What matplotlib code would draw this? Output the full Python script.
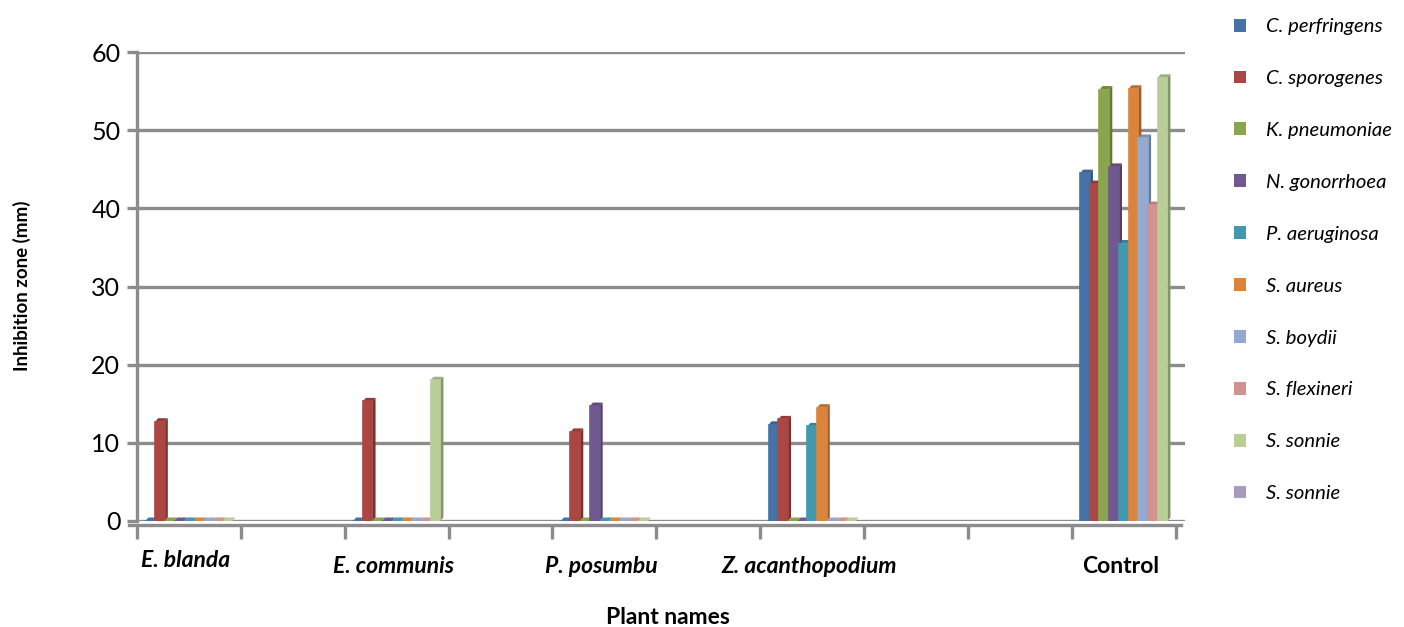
import numpy as np
import matplotlib
matplotlib.use("Agg")
import matplotlib.pyplot as plt
from matplotlib.patches import Polygon, Patch
from matplotlib.colors import to_rgb

nan = np.nan
# 10 category slots on the x axis (empty strings are blank slots)
categories = ["E. blanda", "", "E. communis", "", "P. posumbu", "",
              "Z. acanthopodium", "", "", "Control"]
series_names = ["C. perfringens", "C. sporogenes", "K. pneumoniae", "N. gonorrhoea",
                "P. aeruginosa", "S. aureus", "S. boydii", "S. flexineri",
                "S. sonnie", "S. sonnie"]
c_perfringens = [0, nan, 0, nan, 0, nan, 12.3, nan, nan, 44.5]
c_sporogenes = [12.7, nan, 15.3, nan, 11.4, nan, 13.0, nan, nan, 43.1]
k_pneumoniae = [0, nan, 0, nan, 0, nan, 0, nan, nan, 55.2]
n_gonorrhoea = [0, nan, 0, nan, 14.7, nan, 0, nan, nan, 45.3]
p_aeruginosa = [0, nan, 0, nan, 0, nan, 12.1, nan, nan, 35.5]
s_aureus = [0, nan, 0, nan, 0, nan, 14.5, nan, nan, 55.3]
s_boydii = [0, nan, 0, nan, 0, nan, 0, nan, nan, 49.0]
s_flexineri = [0, nan, 0, nan, 0, nan, 0, nan, nan, 40.4]
s_sonnie = [0, nan, 18.0, nan, 0, nan, 0, nan, nan, 56.7]
s_sonnie_2 = [nan] * 10
series_values = [c_perfringens, c_sporogenes, k_pneumoniae, n_gonorrhoea,
                 p_aeruginosa, s_aureus, s_boydii, s_flexineri, s_sonnie, s_sonnie_2]
colors = ["#4572A7", "#AA4643", "#89A54E", "#71588F", "#4198AF",
          "#DB843D", "#93A9CF", "#D19392", "#B9CD96", "#A99BBD"]
yticks = [0, 10, 20, 30, 40, 50, 60]

W, H = 1404, 627
fig = plt.figure(figsize=(W / 100, H / 100), dpi=100)
ax = fig.add_axes([137 / W, 1 - 521 / H, (1185 - 137) / W, (521 - 52) / H])

n_slots = len(categories)
ax.set_xlim(0, 10.09)
ax.set_ylim(0, 60)

grid_c = "#8c8c8c"
for yv in yticks:
    ax.axhline(yv, color=grid_c, lw=2.4, zorder=1)

nbars = 9
group_w = 0.84
bw = group_w / nbars
dx, dy = 0.03, 0.45


def darker(c, f):
    r, g, b = to_rgb(c)
    return (r * f, g * f, b * f)


for si in range(len(series_values)):
    vals = series_values[si]
    col = colors[si]
    for ci in range(n_slots):
        v = vals[ci]
        if np.isnan(v):
            continue
        xc = ci + 0.5 + (si - (nbars - 1) / 2) * bw
        xl, xr = xc - bw / 2, xc + bw / 2
        ax.bar(xc, v, width=bw, color=col, edgecolor=col, linewidth=1.2, zorder=3)
        top = Polygon([(xl, v), (xl + dx, v + dy), (xr + dx, v + dy), (xr, v)],
                      closed=True, facecolor=darker(col, 0.85) if v > 0 else col,
                      edgecolor="none", zorder=2.9)
        ax.add_patch(top)
        if v > 0:
            side = Polygon([(xr, 0), (xr + dx, dy), (xr + dx, v + dy), (xr, v)],
                           closed=True, facecolor=darker(col, 0.72), edgecolor="none", zorder=2.9)
            ax.add_patch(side)

# axes styling
for s in ["top", "right"]:
    ax.spines[s].set_visible(False)
ax.spines["left"].set_color(grid_c)
ax.spines["left"].set_linewidth(2.4)
ax.spines["bottom"].set_color(grid_c)
ax.spines["bottom"].set_linewidth(2.4)
ax.spines["bottom"].set_bounds(-0.08, 10.05)
ax.spines["bottom"].set_position(("outward", 3))

ax.set_yticks(yticks)
ax.set_yticklabels([str(t) for t in yticks], fontsize=18, family="Lato")
ax.tick_params(axis="y", length=7, width=2.4, color=grid_c, pad=5)
ax.set_xticks(np.arange(0, n_slots + 1))
ax.set_xticklabels([])
ax.tick_params(axis="x", length=10, width=2.4, color=grid_c, direction="out")

for ci, name in enumerate(categories):
    if not name:
        continue
    style = "normal" if name == "Control" else "italic"
    yoff = -0.085 if ci == 0 else -0.098
    ax.text(ci + 0.47, yoff, name, transform=ax.get_xaxis_transform(),
            ha="center", va="center", fontsize=16.5, fontweight="bold",
            fontstyle=style, family="Lato")

fig.text(22 / W, 1 - 286 / H, "Inhibition zone (mm)", rotation=90, ha="center",
         va="center", fontsize=13.5, fontweight="bold", family="Lato")
fig.text(668 / W, 1 - 617 / H, "Plant names", ha="center", va="center",
         fontsize=16.5, fontweight="bold", family="Lato")

handles = [Patch(facecolor=c, edgecolor="none") for c in colors]
fig.legend(handles, series_names, loc="upper left", bbox_to_anchor=(1216 / W, 1 + 0 / H),
           frameon=False, prop={"family": "Lato", "style": "italic", "size": 14.6},
           handlelength=0.6, handleheight=0.6, handletextpad=0.95, labelspacing=1.72)

fig.savefig("out.png", dpi=100)
